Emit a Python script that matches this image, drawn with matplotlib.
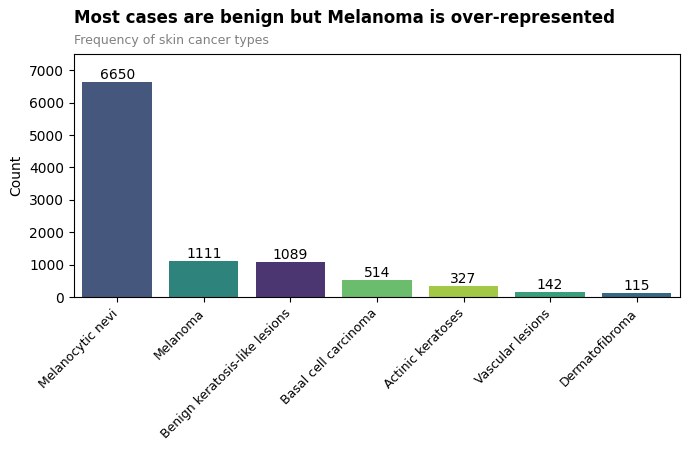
import matplotlib.pyplot as plt
from matplotlib.transforms import ScaledTranslation

# ==========================================================
# DATA
# ==========================================================

lesion_types = [
    "Melanocytic nevi",
    "Melanoma",
    "Benign keratosis-like lesions",
    "Basal cell carcinoma",
    "Actinic keratoses",
    "Vascular lesions",
    "Dermatofibroma",
]
lesion_counts = [6650, 1111, 1089, 514, 327, 142, 115]

bar_colors = [
    "#46577E",
    "#2E837D",
    "#4B3672",
    "#6BBC6C",
    "#A3C746",
    "#389E7B",
    "#366882",
]

# ==========================================================
# FIGURE
# ==========================================================

fig = plt.figure(figsize=(6.9, 4.49), dpi=100)
ax = fig.add_axes([0.107, 0.3385, 0.8785, 0.5412])

positions = range(len(lesion_types))
bars = ax.bar(positions, lesion_counts, width=0.8, color=bar_colors)
ax.bar_label(bars, labels=[str(v) for v in lesion_counts], fontsize=10, padding=0)

ax.set_xlim(-0.5, len(lesion_types) - 0.5)
ax.set_ylim(0, 7500)
ax.set_xticks(list(positions))
ax.set_xticklabels(lesion_types, rotation=45, ha="right", fontsize=9)
# nudge rotated labels a little to the right
shift = ScaledTranslation(3 / 100, 0, fig.dpi_scale_trans)
for label in ax.get_xticklabels():
    label.set_transform(label.get_transform() + shift)
ax.set_ylabel("Count", fontsize=10)

fig.text(0.107, 0.96, "Most cases are benign but Melanoma is over-represented",
         fontsize=12, fontweight="bold", ha="left", va="center")
fig.text(0.107, 0.909, "Frequency of skin cancer types",
         fontsize=9, color="gray", ha="left", va="center")

fig.savefig("out.png", dpi=100)
plt.close(fig)
